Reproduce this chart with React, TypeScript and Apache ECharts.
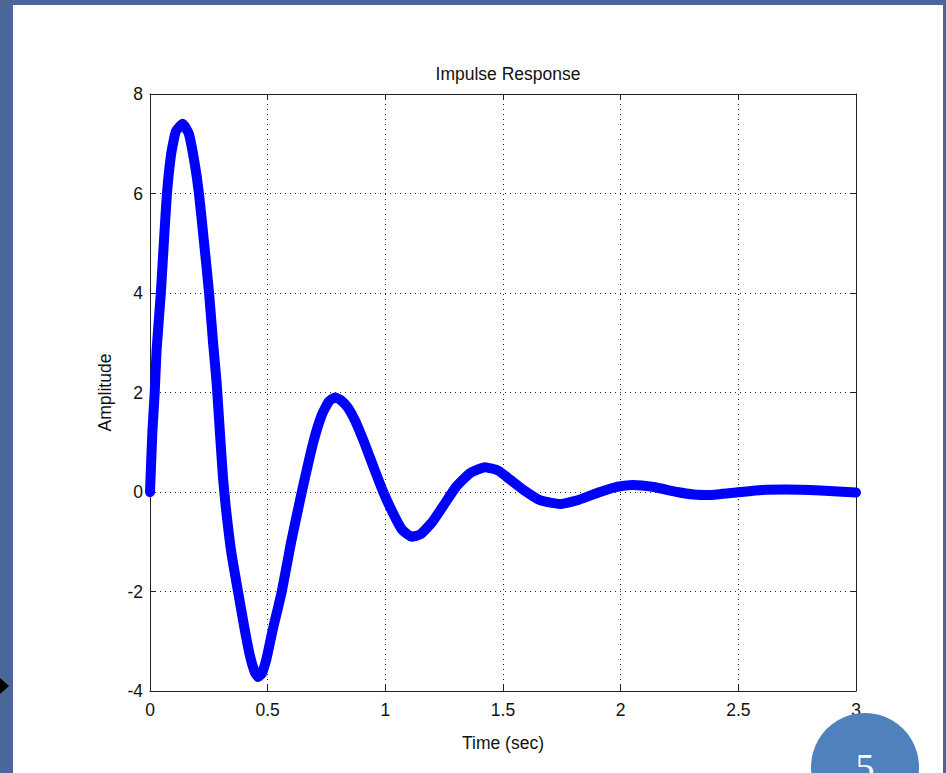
import React, { useEffect, useRef } from "react";
import * as echarts from "echarts";

const times = [0, 0.01, 0.02, 0.028, 0.046, 0.06, 0.072, 0.09, 0.11, 0.139, 0.165, 0.19, 0.208, 0.23, 0.251, 0.268, 0.283, 0.297, 0.31, 0.322, 0.345, 0.374, 0.4, 0.425, 0.445, 0.46, 0.475, 0.495, 0.52, 0.56, 0.6, 0.645, 0.694, 0.73, 0.76, 0.786, 0.81, 0.84, 0.87, 0.91, 0.95, 0.991, 1.03, 1.07, 1.112, 1.15, 1.2, 1.25, 1.3, 1.36, 1.424, 1.48, 1.53, 1.585, 1.66, 1.742, 1.82, 1.912, 1.98, 2.05, 2.14, 2.24, 2.31, 2.38, 2.49, 2.6, 2.7, 2.85, 3.0];
const amplitude = [0, 1.2, 2.0, 2.85, 4.0, 5.1, 6.0, 6.8, 7.25, 7.4, 7.2, 6.6, 6.0, 5.0, 4.0, 3.0, 2.2, 1.2, 0.3, -0.3, -1.2, -2.0, -2.7, -3.3, -3.62, -3.72, -3.65, -3.35, -2.8, -2.0, -1.0, 0.0, 1.0, 1.55, 1.82, 1.9, 1.85, 1.7, 1.45, 1.0, 0.5, 0.0, -0.4, -0.75, -0.9, -0.85, -0.6, -0.25, 0.1, 0.38, 0.5, 0.43, 0.25, 0.05, -0.17, -0.24, -0.16, 0.0, 0.1, 0.14, 0.1, 0.0, -0.05, -0.06, -0.01, 0.04, 0.05, 0.03, -0.01];

const xTicks = ["0", "0.5", "1", "1.5", "2", "2.5", "3"];
const yTicks = ["-4", "-2", "0", "2", "4", "6", "8"];

const titleText = "Impulse Response";
const xName = "Time (sec)";
const yName = "Amplitude";
const slideNumber = "5";

const FONT = "'Liberation Sans', Arial, Helvetica, sans-serif";

export default function App() {
  const ref = useRef<HTMLDivElement>(null);
  useEffect(() => {
    if (!ref.current) return;
    const chart = echarts.init(ref.current, undefined, { renderer: "svg" });
    const data = times.map((t, i) => [t, amplitude[i]]);
    const labelStyle = { color: "#111", fontSize: 17.5, fontFamily: FONT };
    const dotted = { show: true, lineStyle: { color: "#222", type: [1, 4] as any, width: 1 } };
    chart.setOption({
      animation: false,
      backgroundColor: "#4a6797",
      title: {
        text: titleText,
        left: 503,
        top: 60,
        textAlign: "center",
        textStyle: { fontSize: 17.5, fontWeight: "normal", color: "#111", fontFamily: FONT },
      },
      grid: { left: 150, top: 94, right: 90, bottom: 82, show: false },
      xAxis: [
        {
          type: "value",
          min: 0,
          max: 3,
          interval: 0.5,
          position: "bottom",
          name: xName,
          nameLocation: "middle",
          nameGap: 43,
          nameTextStyle: labelStyle,
          axisLine: { show: true, onZero: false, lineStyle: { color: "#222", width: 1 } },
          axisTick: { show: true, inside: true, length: 6, lineStyle: { color: "#222" } },
          axisLabel: {
            ...labelStyle,
            margin: 10,
            formatter: (v: number) => xTicks[Math.round(v / 0.5)] ?? "",
          },
          splitLine: dotted,
        },
        {
          type: "value",
          min: 0,
          max: 3,
          interval: 0.5,
          position: "top",
          axisLine: { show: true, onZero: false, lineStyle: { color: "#222", width: 1 } },
          axisTick: { show: true, inside: true, length: 6, lineStyle: { color: "#222" } },
          axisLabel: { show: false },
          splitLine: { show: false },
        },
      ],
      yAxis: [
        {
          type: "value",
          min: -4,
          max: 8,
          interval: 2,
          position: "left",
          name: yName,
          nameLocation: "middle",
          nameGap: 36,
          nameTextStyle: labelStyle,
          axisLine: { show: true, onZero: false, lineStyle: { color: "#222", width: 1 } },
          axisTick: { show: true, inside: true, length: 6, lineStyle: { color: "#222" } },
          axisLabel: {
            ...labelStyle,
            margin: 7,
            formatter: (v: number) => yTicks[Math.round((v + 4) / 2)] ?? "",
          },
          splitLine: dotted,
        },
        {
          type: "value",
          min: -4,
          max: 8,
          interval: 2,
          position: "right",
          axisLine: { show: true, onZero: false, lineStyle: { color: "#222", width: 1 } },
          axisTick: { show: true, inside: true, length: 6, lineStyle: { color: "#222" } },
          axisLabel: { show: false },
          splitLine: { show: false },
        },
      ],
      graphic: [
        {
          type: "rect",
          z: -10,
          silent: true,
          shape: { x: 13, y: 5, width: 930, height: 768 },
          style: { fill: "#ffffff" },
        },
        {
          type: "polygon",
          z: 100,
          shape: { points: [[0, 678], [9, 686], [0, 694]] },
          style: { fill: "#000000" },
        },
        {
          type: "circle",
          z: 100,
          shape: { cx: 865, cy: 767, r: 54 },
          style: { fill: "#4f81bd" },
        },
        {
          type: "text",
          z: 101,
          x: 865,
          y: 748,
          style: {
            text: slideNumber,
            fill: "#ffffff",
            fontSize: 38,
            fontFamily: "'Liberation Serif', 'DejaVu Serif', serif",
            align: "center",
            verticalAlign: "top",
          },
        },
      ],
      series: [
        {
          type: "line",
          xAxisIndex: 0,
          yAxisIndex: 0,
          data,
          smooth: 0.15,
          showSymbol: false,
          clip: true,
          lineStyle: { color: "#0000ff", width: 10, cap: "round", join: "round" },
        },
      ],
    });
    return () => chart.dispose();
  }, []);
  return (
    <div
      ref={ref}
      style={{ position: "fixed", left: 0, top: 0, width: 946, height: 773 }}
    />
  );
}
